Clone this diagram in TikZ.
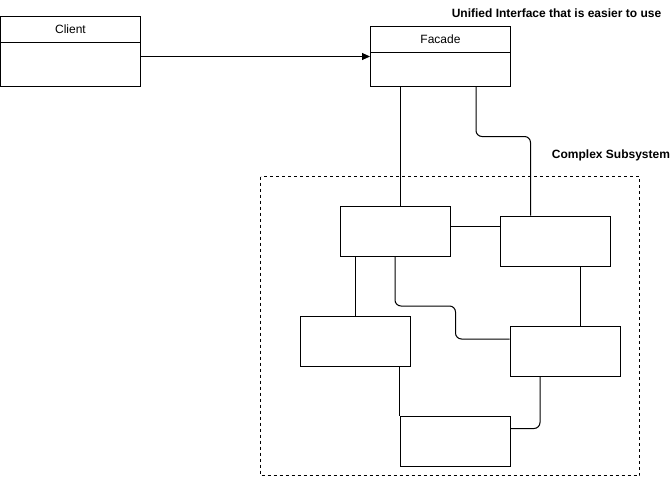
\documentclass[tikz,border=0pt]{standalone}
\usepackage{fontspec}
\setmainfont{Liberation Sans}
\usetikzlibrary{arrows.meta}

\begin{document}
\begin{tikzpicture}[x=1pt, y=-1pt, line width=1pt,
    classbox/.style={draw, minimum width=140pt, inner sep=0pt},
    subbox/.style={draw, minimum width=110pt, minimum height=50pt, inner sep=0pt},
    link/.style={rounded corners=6pt},
    title/.style={font=\fontsize{12}{14}\selectfont\bfseries},
    every node/.append style={font=\fontsize{12}{14}\selectfont}]
  \useasboundingbox (0,0) rectangle (670,479);
  \draw [dash pattern=on 3pt off 3pt] (260.5,176.5) rectangle (639.5,475.5);
  \node [classbox, minimum height=70pt] (client) at (70.5,51.5) {};
  \node [classbox, minimum height=60pt] (facade) at (440.5,56.5) {};
  \draw (client.west |- 0,42) -- (client.east |- 0,42);
  \draw (facade.west |- 0,52.5) -- (facade.east |- 0,52.5);
  \node (clienttext) at (70.5,29.5) {Client};
  \node (facadetext) at (440.5,39.5) {Facade};
  \node [title] (unified) at (556.5,13) {Unified Interface that is easier to use};
  \node [title] (complex) at (611,155) {Complex Subsystem};
  \node [subbox] (a) at (395,231) {};
  \node [subbox] (b) at (555,241) {};
  \node [subbox] (c) at (355,341) {};
  \node [subbox] (d) at (565,351) {};
  \node [subbox] (e) at (455,441) {};
  \draw [-{Triangle[length=8pt, width=7pt]}] (client.east |- facade.west) -- (facade.west);
  \draw ([xshift=5pt]a.north) -- ([xshift=5pt]a.north |- facade.south);
  \draw [link] ([xshift=35.5pt]facade.south) -- ++(0,49.5) -| ([xshift=-24.5pt]b.north);
  \draw ([yshift=5pt]a.east) -- ([yshift=5pt]a.east -| b.west);
  \draw (c.north) -- (c.north |- a.south);
  \draw [link] (a.south) |- (455.5,306) |- ([yshift=12pt]d.west);
  \draw ([xshift=25pt]b.south) -- ([xshift=25pt]b.south |- d.north);
  \draw (e.north west |- c.south) -- (e.north west);
  \draw [link] ([xshift=-25pt]d.south) |- ([yshift=12.5pt]e.east);
\end{tikzpicture}
\end{document}
